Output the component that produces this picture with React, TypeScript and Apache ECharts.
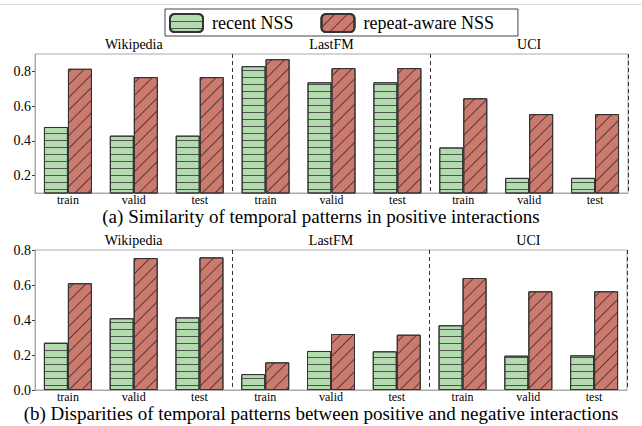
import React, { useEffect, useRef } from "react";
import * as echarts from "echarts";

const splits = ["train", "valid", "test"];
const datasets = ["Wikipedia", "LastFM", "UCI"];
const categories = datasets.flatMap(() => splits);

const seriesNames = ["recent NSS", "repeat-aware NSS"];

// (a) Similarity of temporal patterns in positive interactions
const simRecent = [0.48, 0.43, 0.43, 0.83, 0.737, 0.737, 0.362, 0.187, 0.187];
const simRepeat = [0.815, 0.767, 0.767, 0.87, 0.819, 0.819, 0.645, 0.554, 0.554];
const simTicks = [0.2, 0.4, 0.6, 0.8];

// (b) Disparities between positive and negative interactions
const disRecent = [0.27, 0.41, 0.415, 0.091, 0.223, 0.221, 0.37, 0.196, 0.198];
const disRepeat = [0.61, 0.754, 0.758, 0.158, 0.32, 0.316, 0.64, 0.564, 0.564];
const disTicks = [0.0, 0.2, 0.4, 0.6, 0.8];

const captions = [
  "(a) Similarity of temporal patterns in positive interactions",
  "(b) Disparities of temporal patterns between positive and negative interactions",
];

const FONT = "'Liberation Serif', 'Times New Roman', serif";
const GREEN = "#b4dbb0";
const RED = "#cd7a6e";
const EDGE = "#333333";
const FRAME = "#aaaaaa";

const greenDecal = {
  symbol: "rect",
  symbolSize: 1,
  dashArrayX: [1, 0],
  dashArrayY: [1, 6],
  color: "rgba(40,40,40,0.75)",
};
const redDecal = {
  symbol: "rect",
  symbolSize: 1,
  dashArrayX: [1, 0],
  dashArrayY: [1, 8],
  rotation: -Math.PI / 4,
  color: "rgba(40,40,40,0.75)",
};

export default function App() {
  const ref = useRef<HTMLDivElement>(null);
  useEffect(() => {
    if (!ref.current) return;
    const chart = echarts.init(ref.current, undefined, { renderer: "svg" });
    const grids = [
      { left: 35, right: 14, top: 54, height: 139 },
      { left: 35, right: 15, top: 250, height: 140 },
    ];
    const yCfg = [
      { min: 0.1, max: 0.9, ticks: simTicks },
      { min: 0, max: 0.8, ticks: disTicks },
    ];
    const xAxis: any[] = [];
    const yAxis: any[] = [];
    grids.forEach((g, i) => {
      xAxis.push({
        type: "category",
        gridIndex: i,
        data: categories,
        axisLine: { lineStyle: { color: FRAME } },
        axisTick: { alignWithLabel: true, length: 3, lineStyle: { color: "#444" } },
        axisLabel: { color: "#000", fontFamily: FONT, fontSize: 12, margin: 1, lineHeight: 11 },
        splitLine: {
          show: true,
          interval: (idx: number) => idx === 3 || idx === 6,
          lineStyle: { color: "#333", type: [4, 3], width: 1 },
        },
      });
      xAxis.push({
        type: "category",
        gridIndex: i,
        position: "top",
        data: datasets,
        axisLine: { show: false },
        axisTick: { show: false },
        axisLabel: { color: "#000", fontFamily: FONT, fontSize: 14, margin: 3 },
      });
      yAxis.push({
        type: "value",
        gridIndex: i,
        min: yCfg[i].min,
        max: yCfg[i].max,
        axisLine: { show: true, lineStyle: { color: FRAME } },
        axisTick: { show: true, length: 3, customValues: yCfg[i].ticks, lineStyle: { color: "#444" } },
        axisLabel: {
          color: "#000",
          fontFamily: FONT,
          fontSize: 14,
          margin: 4,
          customValues: yCfg[i].ticks,
          formatter: (v: number) => v.toFixed(1),
        },
        splitLine: { show: false },
      });
    });
    const mk = (name: string, data: number[], idx: number, color: string, decal: any) => ({
      name,
      type: "bar",
      xAxisIndex: idx * 2,
      yAxisIndex: idx,
      data,
      barWidth: 24,
      barGap: "0%",
      itemStyle: { color, borderColor: EDGE, borderWidth: 1, decal },
    });
    chart.setOption({
      animation: false,
      textStyle: { fontFamily: FONT },
      grid: grids.map((g) => ({
        ...g,
        show: true,
        borderColor: FRAME,
        borderWidth: 1,
        backgroundColor: "transparent",
      })),
      legend: {
        data: seriesNames,
        left: 165,
        top: 9,
        padding: [4, 24, 3, 4],
        itemWidth: 33,
        itemHeight: 18,
        itemGap: 27,
        borderColor: "#444",
        borderWidth: 1,
        textStyle: { fontFamily: FONT, fontSize: 18, color: "#000", padding: [0, 0, 0, 4] },
      },
      title: captions.map((t, i) => ({
        text: t,
        left: "center",
        top: i === 0 ? 208 : 405,
        padding: 0,
        textStyle: { fontFamily: FONT, fontSize: 19, lineHeight: 17, fontWeight: "normal", color: "#000" },
      })),
      graphic: [
        {
          type: "line",
          shape: { x1: 0, y1: 4.5, x2: 642, y2: 4.5 },
          style: { stroke: "#dddddd", lineWidth: 1 },
        },
      ],
      xAxis,
      yAxis,
      series: [
        mk(seriesNames[0], simRecent, 0, GREEN, greenDecal),
        mk(seriesNames[1], simRepeat, 0, RED, redDecal),
        mk(seriesNames[0], disRecent, 1, GREEN, greenDecal),
        mk(seriesNames[1], disRepeat, 1, RED, redDecal),
      ],
    });
    return () => chart.dispose();
  }, []);
  return (
    <div
      ref={ref}
      style={{ position: "fixed", left: 0, top: 0, width: 642, height: 426, background: "#fff" }}
    />
  );
}
